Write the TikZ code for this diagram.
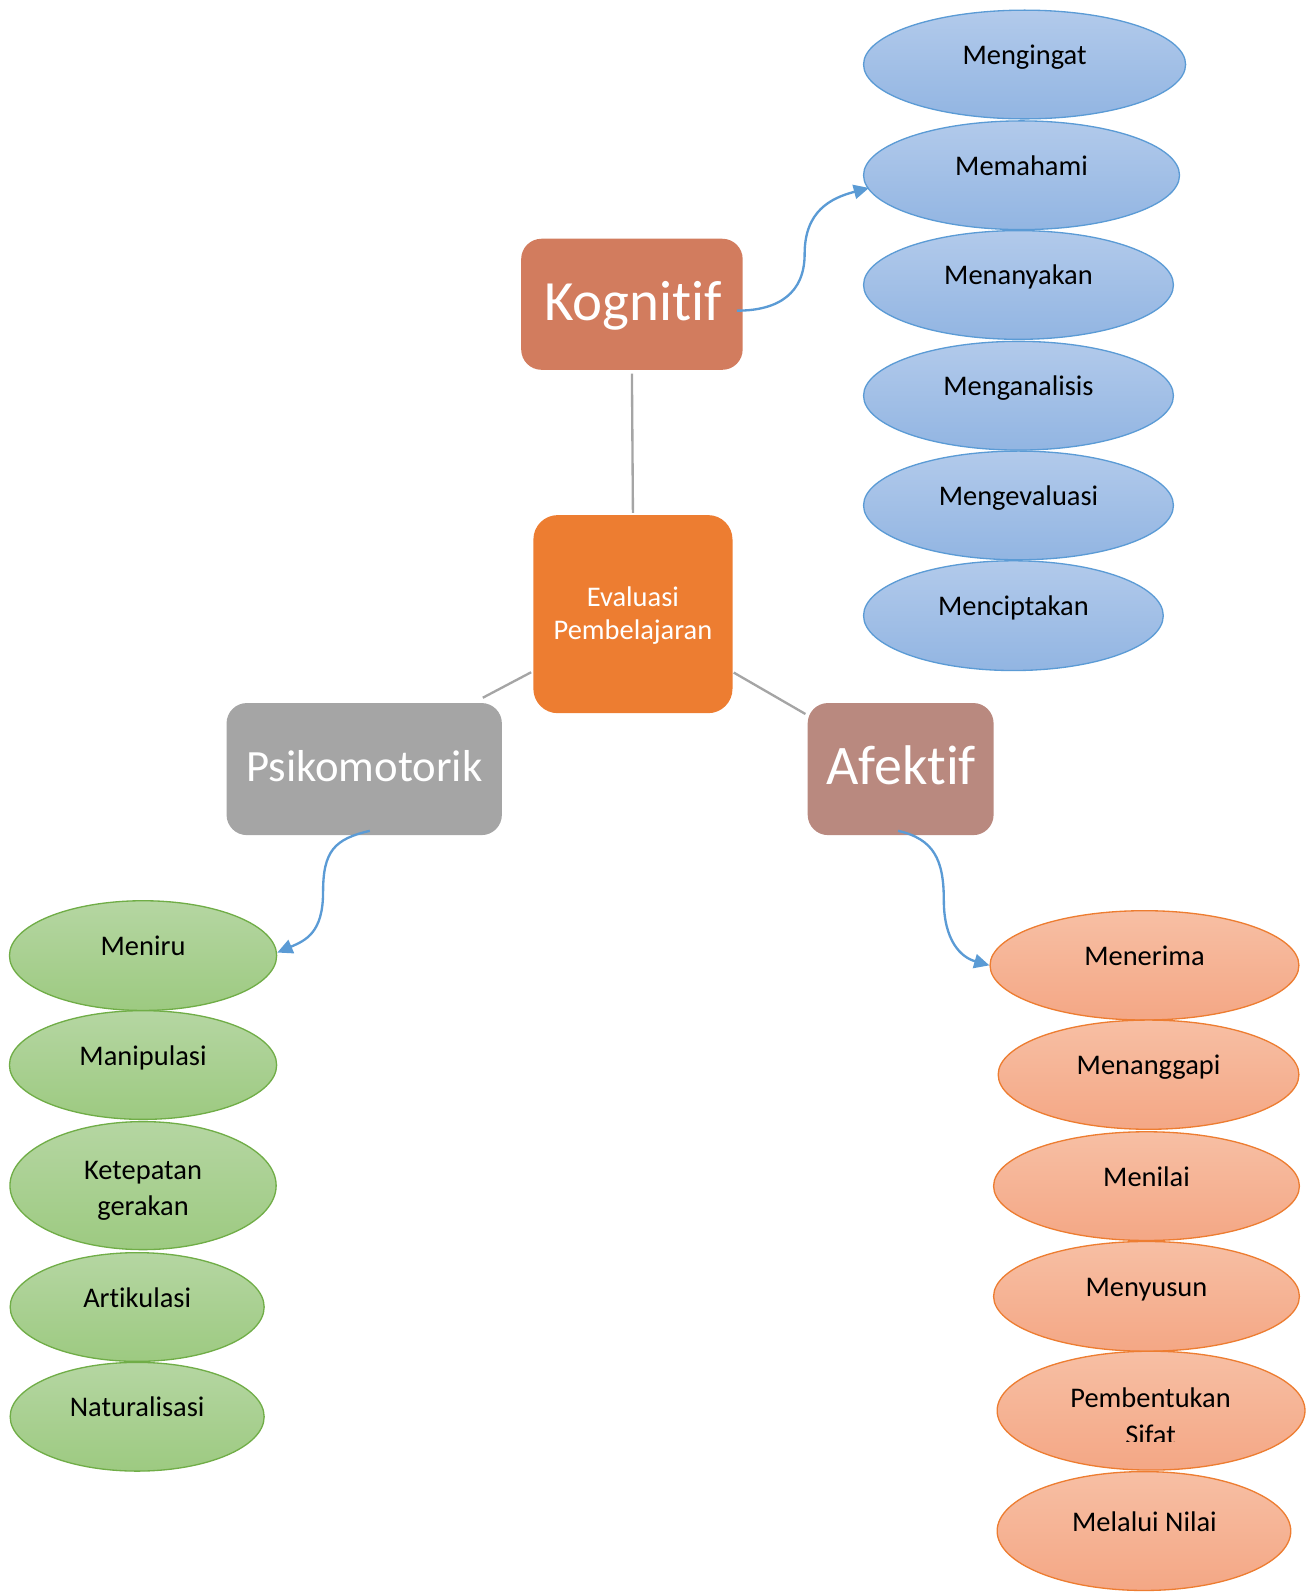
\documentclass[tikz,border=0pt]{standalone}
\usepackage{fontspec}
\setmainfont{Carlito}[Ligatures=NoCommon,Contextuals=NoAlternate]
\usetikzlibrary{shapes.geometric,arrows.meta}
\newcommand{\tinolig}{t\kern0pt i}
\definecolor{kogc}{RGB}{210,124,94}
\definecolor{evalc}{RGB}{237,125,49}
\definecolor{psic}{RGB}{165,165,165}
\definecolor{afec}{RGB}{185,137,127}
\definecolor{linec}{RGB}{165,165,165}
\definecolor{arrc}{RGB}{91,155,213}
\definecolor{bluetop}{RGB}{178,202,235}
\definecolor{bluebot}{RGB}{146,181,226}
\definecolor{blueline}{RGB}{91,155,213}
\definecolor{greentop}{RGB}{181,214,162}
\definecolor{greenbot}{RGB}{157,202,129}
\definecolor{greenline}{RGB}{112,173,71}
\definecolor{orgtop}{RGB}{247,191,164}
\definecolor{orgbot}{RGB}{244,167,133}
\definecolor{orgline}{RGB}{237,125,49}
\begin{document}
\begin{tikzpicture}[x=1pt,y=-1pt,
  box/.style={rectangle, rounded corners=20pt, inner sep=0pt, draw=none},
  ell/.style={ellipse, inner sep=0pt, line width=1.3pt},
  bell/.style={ell, draw=blueline, top color=bluetop, bottom color=bluebot},
  gell/.style={ell, draw=greenline, top color=greentop, bottom color=greenbot},
  oell/.style={ell, draw=orgline, top color=orgtop, bottom color=orgbot},
  etxt/.style={anchor=base, inner sep=0pt, font=\fontsize{28}{32}\selectfont, text=black},
  btxt/.style={anchor=base, inner sep=0pt, text=white},
  gline/.style={draw=linec, line width=2.3pt},
  arr/.style={draw=arrc, line width=2.3pt, -{Triangle[length=15pt,width=14pt]}},
]
\useasboundingbox (0,0) rectangle (1293,1568);

% main boxes
\node[box, fill=kogc, minimum width=218pt, minimum height=129pt] (kog) at (622,299.5) {};
\node[btxt, font=\fontsize{56}{60}\selectfont] (kogt) at (623,315.6) {Kogni\tinolig f};

\node[box, rounded corners=24pt, fill=evalc, minimum width=196pt, minimum height=195pt] (eval) at (623,604.5) {};
\node[btxt, font=\fontsize{28}{32}\selectfont] (evalt1) at (623,596.5) {Evaluasi};
\node[btxt, font=\fontsize{28}{32}\selectfont] (evalt2) at (623,629) {Pembelajaran};

\node[box, fill=psic, minimum width=271pt, minimum height=130pt] (psi) at (358.5,757) {};
\node[btxt, font=\fontsize{44}{48}\selectfont] (psit) at (358.7,769.4) {Psikomotorik};

\node[box, fill=afec, minimum width=183pt, minimum height=130pt] (afe) at (886.5,757) {};
\node[btxt, font=\fontsize{55}{60}\selectfont] (afet) at (887,772.6) {Afek\tinolig f};

% gray connectors
\draw[gline] ([shift={(0,3.5)}]kog.south) -- ([shift={(0,-2)}]eval.north);
\draw[gline] ([shift={(-2,57.2)}]eval.west) -- ([shift={(-19,-5)}]psi.north east);
\draw[gline] ([shift={(1,57.5)}]eval.east) -- ([shift={(-2,11)}]afe.north west);

% blue ellipses (Kognitif)
\node[bell, minimum width=317pt, minimum height=107pt] (b1) at (1008.5,63.5) {};
\node[etxt] (b1t) at (1008.5,63.5) {Mengingat};
\node[bell, minimum width=311pt, minimum height=107pt] (b2) at (1005.5,172.5) {};
\node[etxt] (b2t) at (1005.5,172.5) {Memahami};
\node[bell, minimum width=305pt, minimum height=107pt] (b3) at (1002.5,280.5) {};
\node[etxt] (b3t) at (1002.5,280.5) {Menanyakan};
\node[bell, minimum width=305pt, minimum height=107pt] (b4) at (1002.5,389.5) {};
\node[etxt] (b4t) at (1002.5,389.5) {Menganalisis};
\node[bell, minimum width=305pt, minimum height=107pt] (b5) at (1002.5,497.5) {};
\node[etxt] (b5t) at (1002.5,497.5) {Mengevaluasi};
\node[bell, minimum width=295pt, minimum height=108pt] (b6) at (997.5,606) {};
\node[etxt] (b6t) at (997.5,606) {Menciptakan};

% green ellipses (Psikomotorik)
\node[gell, minimum width=263pt, minimum height=108pt] (g1) at (140.8,940.6) {};
\node[etxt] (g1t) at (140.8,940.6) {Meniru};
\node[gell, minimum width=263pt, minimum height=107pt] (g2) at (140.8,1048.3) {};
\node[etxt] (g2t) at (140.8,1048.3) {Manipulasi};
\node[gell, minimum width=262pt, minimum height=126pt] (g3) at (140.8,1167) {};
\node[etxt] (g3t) at (140.8,1160.7) {Ketepatan};
\node[etxt] (g3u) at (140.8,1196.9) {gerakan};
\node[gell, minimum width=250pt, minimum height=107pt] (g4) at (135,1286.5) {};
\node[etxt] (g4t) at (135,1286.5) {Ar\tinolig kulasi};
\node[gell, minimum width=250pt, minimum height=107pt] (g5) at (135,1394.5) {};
\node[etxt] (g5t) at (135,1394.5) {Naturalisasi};

% orange ellipses (Afektif)
\node[oell, minimum width=304pt, minimum height=107.6pt] (o1) at (1126.5,950.2) {};
\node[etxt] (o1t) at (1126.5,950.2) {Menerima};
\node[oell, minimum width=296pt, minimum height=107.5pt] (o2) at (1130.5,1057.8) {};
\node[etxt] (o2t) at (1130.5,1057.8) {Menanggapi};
\node[oell, minimum width=301pt, minimum height=107pt] (o3) at (1128.5,1167.5) {};
\node[etxt] (o3t) at (1128.5,1167.5) {Menilai};
\node[oell, minimum width=301pt, minimum height=108pt] (o4) at (1128.5,1276) {};
\node[etxt] (o4t) at (1128.5,1276) {Menyusun};
\node[oell, minimum width=303pt, minimum height=117pt] (o5) at (1133,1388.5) {};
\node[etxt] (o5t) at (1132.5,1385) {Pembentukan};
\begin{scope}
  \clip (985,1395) rectangle (1280,1418.5);
  \node[etxt] (o5u) at (1132.5,1421.5) {Sifat};
\end{scope}
\node[oell, minimum width=289pt, minimum height=117pt] (o6) at (1126,1507) {};
\node[etxt] (o6t) at (1126.5,1507) {Melalui Nilai};

% blue curved arrows
\coordinate (kmid) at (792,250);
\draw[arr] ([shift={(-6,6.3)}]kog.east) .. controls +(42,0) and +(0,38) .. (kmid)
  .. controls +(0,-42) and +(-38,10) .. ([shift={(6,12.5)}]b2.west);

\coordinate (pmid) at (318,878);
\draw[arr] ([shift={(5.5,-4.4)}]psi.south) .. controls +(-35,8) and +(0,-40) .. (pmid)
  .. controls +(0,40) and +(28,-12) .. ([shift={(0,-3)}]g1.east);

\coordinate (amid) at (929,886);
\draw[arr] ([shift={(-2.5,-4.4)}]afe.south) .. controls +(35,8) and +(0,-40) .. (amid)
  .. controls +(0,40) and +(-28,-8) .. (o1.west);
\end{tikzpicture}
\end{document}
